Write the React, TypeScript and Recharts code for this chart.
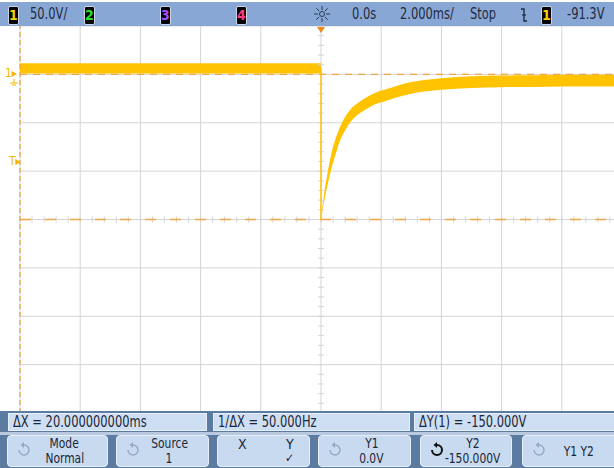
import React from "react";
import {
  Area,
  CartesianGrid,
  ComposedChart,
  Line,
  ReferenceDot,
  ReferenceLine,
  XAxis,
  YAxis,
} from "recharts";

// Scope capture: 2 ms/div time base, 50 V/div on channel 1.
// Y axis is in volts as the cursors read them (Y1 = 0 V at centre, Y2 = -150 V three divs up).
const timeTicks = [-10, -8, -6, -4, -2, 0, 2, 4, 6, 8, 10];
const voltTicks = [-200, -150, -100, -50, 0, 50, 100, 150, 200];

// before the trigger: flat noisy band
const preTime = [-10, -5, 0];
const preHigh = [-161.5, -161.5, -161.5];
const preLow = [-151, -151, -151];

// the edge at the trigger point
const edgeTime = [0, 0];
const edgeVolt = [-156, 0];

// after the trigger: recovery back towards ~-143 V
const postTime = [0, 0.1, 0.2, 0.35, 0.5, 0.65, 0.8, 1.0, 1.25, 1.5, 1.8, 2.1, 2.5, 3.0, 3.5, 4.0, 5.0, 6.0, 7.0, 8.0, 9.0, 10.0];
const postHigh = [0, -26, -45, -69, -85, -97, -106, -114.5, -121, -126, -131, -134, -138, -142, -144.5, -146, -148, -148.8, -149, -149.5, -149.5, -149.5];
const postLow = [0, -18, -33, -53, -69, -83, -92, -101.5, -109, -114, -119, -122, -126, -130, -132.5, -134, -136, -136.8, -137, -137.5, -137.5, -137.5];

// cursors
const cursorY1 = 0;
const cursorY2 = -150;
const cursorX1 = -10;

const topLabels = { scale: "50.0V/", delay: "0.0s", timebase: "2.000ms/", run: "Stop", level: "-91.3V" };
const readouts = ["ΔX = 20.000000000ms", "1/ΔX = 50.000Hz", "ΔY(1) = -150.000V"];
const softkeys = [
  { top: "Mode", bottom: "Normal" },
  { top: "Source", bottom: "1" },
  { top: "X", bottom: "Y" },
  { top: "Y1", bottom: "0.0V" },
  { top: "Y2", bottom: "-150.000V" },
  { top: "Y1 Y2", bottom: "" },
];

const TRACE = "#FFC300";
const CURSOR = "#EFA54A";
const GRID = "#D4D4D4";
const FONT = "'Liberation Sans Narrow','Arial Narrow','DejaVu Sans Condensed',sans-serif";

const preData = preTime.map((t, i) => ({ t, band: [preLow[i], preHigh[i]] }));
const edgeData = edgeTime.map((t, i) => ({ t, v: edgeVolt[i] }));
const postData = postTime.map((t, i) => ({ t, band: [postLow[i], postHigh[i]] }));

const minorT: number[] = [];
for (let k = -25; k <= 25; k++) minorT.push(k * 0.4);
const minorV: number[] = [];
for (let k = -20; k <= 20; k++) minorV.push(k * 10);

// the scope font is much narrower than anything installed, so squeeze it
function Narrow({ children, origin = "left" }: { children: React.ReactNode; origin?: string }) {
  return (
    <span style={{ display: "inline-block", transform: "scaleX(0.85)", transformOrigin: origin, whiteSpace: "nowrap" }}>
      {children}
    </span>
  );
}

function Badge({ n, color, left }: { n: string; color: string; left: number }) {
  return (
    <div
      style={{
        position: "absolute",
        left,
        top: 4,
        width: 9,
        height: 17,
        background: "#000",
        border: "1px solid #c9d6ea",
        borderRadius: 2,
        color,
        fontSize: 14,
        fontWeight: 700,
        lineHeight: "17px",
        textAlign: "center",
      }}
    >
      {n}
    </div>
  );
}

function Knob({ dark }: { dark?: boolean }) {
  const c = dark ? "#111" : "#93A9C6";
  return (
    <svg width={16} height={16} style={{ position: "absolute", left: 8, top: 6 }}>
      <path d="M3 8 A5 5 0 1 0 8 3" fill="none" stroke={c} strokeWidth={dark ? 2 : 1.4} />
      <path d="M8 0 L8 6 L4.5 3 Z" fill={c} />
    </svg>
  );
}

function TopBar() {
  const txt = (s: string, left: number) => (
    <span style={{ position: "absolute", left, top: 3, fontSize: 15, color: "#1E2B40" }}>
      <Narrow>{s}</Narrow>
    </span>
  );
  return (
    <div style={{ position: "absolute", left: 0, top: 2, width: 614, height: 24, background: "#89A7D4", fontFamily: FONT }}>
      <Badge n="1" color="#F5D000" left={8} />
      {txt(topLabels.scale, 30)}
      <Badge n="2" color="#2DE02D" left={84} />
      <Badge n="3" color="#A64BFF" left={160} />
      <Badge n="4" color="#FF3D8A" left={236} />
      <svg width={20} height={20} style={{ position: "absolute", left: 312, top: 2 }}>
        {[0, 45, 90, 135, 180, 225, 270, 315].map((a) => (
          <line
            key={a}
            x1={10 + 4 * Math.cos((a * Math.PI) / 180)}
            y1={10 + 4 * Math.sin((a * Math.PI) / 180)}
            x2={10 + 8 * Math.cos((a * Math.PI) / 180)}
            y2={10 + 8 * Math.sin((a * Math.PI) / 180)}
            stroke="#2a3a55"
            strokeWidth={1}
          />
        ))}
        <circle cx={10} cy={10} r={2.5} fill="none" stroke="#2a3a55" />
      </svg>
      {txt(topLabels.delay, 352)}
      {txt(topLabels.timebase, 400)}
      {txt(topLabels.run, 470)}
      <svg width={10} height={16} style={{ position: "absolute", left: 519, top: 5 }}>
        <path d="M2 2 L5 2 L5 14 L8 14" fill="none" stroke="#1E2B40" strokeWidth={1.4} />
        <path d="M3 8 L7 8" stroke="#1E2B40" strokeWidth={1.2} />
      </svg>
      <Badge n="1" color="#F5D000" left={541} />
      {txt(topLabels.level, 567)}
    </div>
  );
}

function BottomBar() {
  const boxes = [
    { left: 8, width: 199 },
    { left: 213, width: 197 },
    { left: 414, width: 210 },
  ];
  const keys = [
    { left: 7, width: 101 },
    { left: 116, width: 93 },
    { left: 217, width: 93 },
    { left: 318, width: 93 },
    { left: 420, width: 92 },
    { left: 522, width: 100 },
  ];
  return (
    <div style={{ position: "absolute", left: 0, top: 411, width: 614, height: 57, background: "#5C7BA1", fontFamily: FONT, color: "#1B2638" }}>
      {boxes.map((b, i) => (
        <div
          key={i}
          style={{
            position: "absolute",
            left: b.left,
            top: 2,
            width: b.width,
            height: 18,
            background: "#CFDFF3",
            border: "1px solid #E6EFFA",
            boxSizing: "border-box",
            fontSize: 15,
            lineHeight: "17px",
            paddingLeft: 4,
            overflow: "hidden",
          }}
        >
          <Narrow>{readouts[i]}</Narrow>
        </div>
      ))}
      <div style={{ position: "absolute", left: 0, top: 21, width: 614, height: 3, background: "#B9CAE0" }} />
      {keys.map((k, i) => (
        <div
          key={i}
          style={{
            position: "absolute",
            left: k.left,
            top: 24,
            width: k.width,
            height: 32,
            background: "#C8DAF0",
            border: "1px solid #E6EFFA",
            borderRadius: 4,
            boxSizing: "border-box",
            fontSize: 14,
            lineHeight: "14px",
            textAlign: "center",
          }}
        >
          {i !== 2 && <Knob dark={i === 4} />}
          {i === 2 ? (
            <>
              <span style={{ position: "absolute", left: 20, top: 1 }}>{softkeys[i].top}</span>
              <span style={{ position: "absolute", left: 68, top: 1 }}>{softkeys[i].bottom}</span>
              <span style={{ position: "absolute", left: 67, top: 16, fontSize: 12, lineHeight: "12px" }}>✓</span>
            </>
          ) : softkeys[i].bottom ? (
            <>
              <div style={{ position: "absolute", left: 14, right: 0, top: 0, height: 14 }}>
                <Narrow origin="center">{softkeys[i].top}</Narrow>
              </div>
              <div style={{ position: "absolute", left: 14, right: 0, top: 15, height: 14 }}>
                <Narrow origin="center">{softkeys[i].bottom}</Narrow>
              </div>
            </>
          ) : (
            <div style={{ position: "absolute", left: 14, right: 0, top: 8 }}>
              <Narrow origin="center">{softkeys[i].top}</Narrow>
            </div>
          )}
        </div>
      ))}
    </div>
  );
}

export default function App() {
  return (
    <div style={{ position: "fixed", left: 0, top: 0, width: 614, height: 468, overflow: "hidden", background: "#fff" }}>
      <ComposedChart width={640} height={468} margin={{ top: 26, right: 18, bottom: 55, left: 20 }}>
        <XAxis dataKey="t" type="number" domain={[-10, 10]} ticks={timeTicks} hide allowDataOverflow />
        <YAxis type="number" domain={[-200, 200]} ticks={voltTicks} reversed hide allowDataOverflow />
        <CartesianGrid stroke={GRID} strokeWidth={1} />
        {minorT.map((t) => (
          <ReferenceLine key={"mt" + t} segment={[{ x: t, y: -3.2 }, { x: t, y: 3.2 }]} stroke={GRID} />
        ))}
        {minorV.map((v) => (
          <ReferenceLine key={"mv" + v} segment={[{ x: -0.1, y: v }, { x: 0.1, y: v }]} stroke={GRID} />
        ))}
        <ReferenceLine y={cursorY1} stroke={CURSOR} strokeDasharray="11 14" strokeWidth={1.3} />
        <ReferenceLine y={cursorY2} stroke={CURSOR} strokeDasharray="7 6" strokeWidth={1.3} />
        <ReferenceLine x={cursorX1} stroke={CURSOR} strokeDasharray="5 3" strokeWidth={1.3} />
        <Area
          data={preData}
          dataKey="band"
          type="linear"
          stroke="none"
          fill={TRACE}
          fillOpacity={1}
          isAnimationActive={false}
        />
        <Area
          data={postData}
          dataKey="band"
          type="monotone"
          stroke="none"
          fill={TRACE}
          fillOpacity={1}
          isAnimationActive={false}
        />
        <Line data={edgeData} dataKey="v" stroke={TRACE} strokeWidth={1.5} dot={false} isAnimationActive={false} />
        <ReferenceDot
          x={0}
          y={-200}
          r={4}
          shape={(p: any) => (
            <path d={`M${p.cx - 4} ${p.cy + 1} L${p.cx + 4} ${p.cy + 1} L${p.cx} ${p.cy + 7} Z`} fill="#F08A1C" />
          )}
        />
      </ComposedChart>
      <TopBar />
      <BottomBar />
      <div style={{ position: "absolute", left: 5, top: 67, fontFamily: FONT, fontSize: 12, color: "#F2B800", lineHeight: "12px" }}>
        1▸
      </div>
      <svg width={10} height={8} style={{ position: "absolute", left: 9, top: 79 }}>
        <path d="M5 0 V4 M1 4 H9 M3 6 H7" stroke="#F2B800" strokeWidth={1} />
      </svg>
      <div style={{ position: "absolute", left: 9, top: 155, fontFamily: FONT, fontSize: 12, color: "#F2B800", lineHeight: "12px" }}>
        T▸
      </div>
    </div>
  );
}
